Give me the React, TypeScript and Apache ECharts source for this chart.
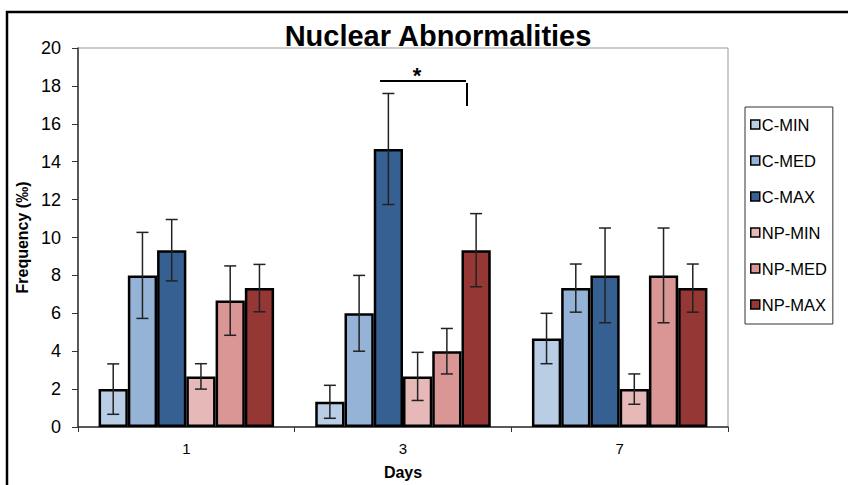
import React, { useEffect, useRef } from "react";
import * as echarts from "echarts";

const days = ["1", "3", "7"];
const seriesNames = ["C-MIN", "C-MED", "C-MAX", "NP-MIN", "NP-MED", "NP-MAX"];
const colors = ["#B9CDE5", "#95B3D7", "#376092", "#E6B9B8", "#D99694", "#953735"];

const cMin = [2.0, 1.33, 4.67];
const cMed = [8.0, 6.0, 7.33];
const cMax = [9.33, 14.67, 8.0];
const npMin = [2.67, 2.67, 2.0];
const npMed = [6.67, 4.0, 8.0];
const npMax = [7.33, 9.33, 7.33];

const cMinErr = [1.33, 0.87, 1.33];
const cMedErr = [2.27, 2.0, 1.27];
const cMaxErr = [1.62, 2.93, 2.5];
const npMinErr = [0.67, 1.27, 0.8];
const npMedErr = [1.83, 1.2, 2.5];
const npMaxErr = [1.25, 1.93, 1.27];

const yTicks = [0, 20, 2];

const values = [cMin, cMed, cMax, npMin, npMed, npMax];
const errors = [cMinErr, cMedErr, cMaxErr, npMinErr, npMedErr, npMaxErr];

const CAT_GAP = 0.19;

export default function App() {
  const ref = useRef<HTMLDivElement>(null);
  useEffect(() => {
    if (!ref.current) return;
    const chart = echarts.init(ref.current, undefined, { renderer: "svg" });
    const errData: number[][] = [];
    values.forEach((vals, s) => {
      vals.forEach((v, c) => {
        errData.push([c, s, v - errors[s][c], v + errors[s][c]]);
      });
    });
    const barSeries = seriesNames.map((name, i) => ({
      name,
      type: "bar",
      data: values[i],
      barGap: "0%",
      barCategoryGap: CAT_GAP * 100 + "%",
      itemStyle: { color: colors[i], borderColor: "#000", borderWidth: 2.5 },
      z: 2,
    }));
    const option: any = {
      animation: false,
      backgroundColor: "#fff",
      title: {
        text: "Nuclear Abnormalities",
        left: 433,
        textAlign: "center",
        top: 16,
        textStyle: { fontFamily: "Liberation Sans", fontWeight: "bold", fontSize: 29, color: "#000" },
      },
      grid: {
        left: 78,
        right: 120,
        top: 48,
        bottom: 54,
        show: true,
        borderColor: "#999",
        borderWidth: 1,
      },
      legend: {
        orient: "vertical",
        left: 745,
        top: 107,
        data: seriesNames,
        icon: "rect",
        itemWidth: 9,
        itemHeight: 9,
        itemGap: 19,
        padding: [9, 6, 11, 5],
        borderColor: "#333",
        borderWidth: 1,
        textStyle: { fontFamily: "Liberation Sans", fontSize: 16.5, color: "#000", padding: [0, 0, 0, -3] },
        itemStyle: { borderColor: "#000", borderWidth: 1.5 },
      },
      xAxis: {
        type: "category",
        data: days,
        name: "Days",
        nameLocation: "middle",
        nameGap: 37,
        nameTextStyle: { fontFamily: "Liberation Sans", fontWeight: "bold", fontSize: 16, color: "#000" },
        axisLine: { lineStyle: { color: "#333", width: 1.5 } },
        axisTick: { show: true, length: 5, lineStyle: { color: "#333" } },
        axisLabel: { fontFamily: "Liberation Sans", fontSize: 15, color: "#000", margin: 14 },
      },
      yAxis: {
        type: "value",
        min: yTicks[0],
        max: yTicks[1],
        interval: yTicks[2],
        name: "Frequency (‰)",
        nameLocation: "middle",
        nameGap: 42,
        nameTextStyle: { fontFamily: "Liberation Sans", fontWeight: "bold", fontSize: 16, color: "#000" },
        axisLine: { show: true, lineStyle: { color: "#333", width: 1.5 } },
        axisTick: { show: true, length: 6, lineStyle: { color: "#333" } },
        axisLabel: { fontFamily: "Liberation Sans", fontSize: 18, color: "#000", margin: 17 },
        splitLine: { show: false },
      },
      series: [
        ...barSeries,
        {
          type: "custom",
          name: "err",
          data: errData,
          z: 5,
          encode: { x: 0, y: [2, 3] },
          renderItem: (params: any, api: any) => {
            const c = api.value(0);
            const s = api.value(1);
            const lo = api.coord([c, api.value(2)]);
            const hi = api.coord([c, api.value(3)]);
            const band = api.size([1, 0])[0];
            const total = band * (1 - CAT_GAP);
            const bw = total / seriesNames.length;
            const x = lo[0] - total / 2 + (s + 0.5) * bw;
            const cap = 6;
            const st = { stroke: "#222", lineWidth: 1.5 };
            return {
              type: "group",
              children: [
                { type: "line", shape: { x1: x, y1: lo[1], x2: x, y2: hi[1] }, style: st },
                { type: "line", shape: { x1: x - cap, y1: lo[1], x2: x + cap, y2: lo[1] }, style: st },
                { type: "line", shape: { x1: x - cap, y1: hi[1], x2: x + cap, y2: hi[1] }, style: st },
              ],
            };
          },
        },
      ],
      graphic: [
        {
          type: "rect",
          shape: { x: 7, y: 12, width: 900, height: 600 },
          style: { fill: "none", stroke: "#000", lineWidth: 2.5 },
          z: -1,
        },
        {
          type: "line",
          shape: { x1: 380, y1: 81, x2: 466, y2: 81 },
          style: { stroke: "#000", lineWidth: 2 },
        },
        {
          type: "line",
          shape: { x1: 467, y1: 83, x2: 467, y2: 106 },
          style: { stroke: "#000", lineWidth: 2 },
        },
        {
          type: "text",
          x: 417,
          y: 75,
          style: {
            text: "*",
            fontFamily: "Liberation Sans",
            fontSize: 22,
            fontWeight: "bold",
            fill: "#000",
            textAlign: "center",
            textVerticalAlign: "middle",
          },
        },
      ],
    };
    chart.setOption(option);
    return () => chart.dispose();
  }, []);
  return (
    <div
      ref={ref}
      style={{ position: "fixed", left: 0, top: 0, width: 848, height: 485 }}
    />
  );
}
